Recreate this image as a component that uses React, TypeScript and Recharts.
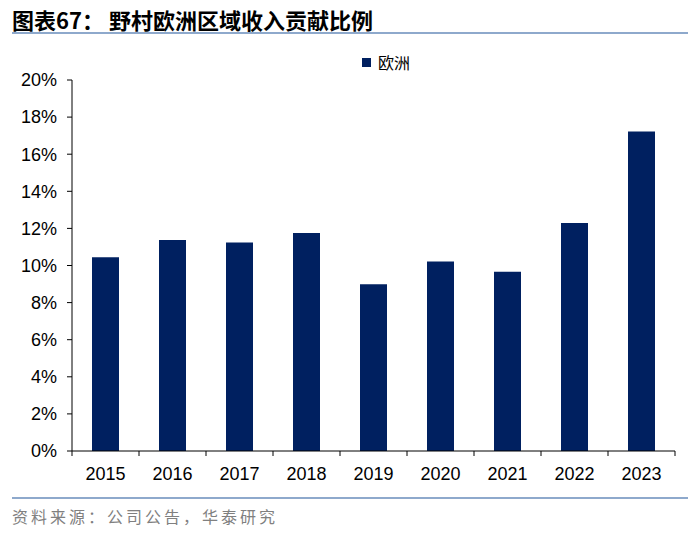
import { BarChart, Bar, XAxis, YAxis, Legend } from "recharts";

const years = ["2015", "2016", "2017", "2018", "2019", "2020", "2021", "2022", "2023"];
const europeShare = [10.45, 11.37, 11.24, 11.75, 8.99, 10.22, 9.66, 12.29, 17.23];
const yTicks = [0, 2, 4, 6, 8, 10, 12, 14, 16, 18, 20];

const chartData = years.map((year, i) => ({ year, europe: europeShare[i] }));

const W = 700;
const H = 535;
const PLOT_LEFT = 72;
const PLOT_RIGHT = 25;
const BAND = (W - PLOT_LEFT - PLOT_RIGHT) / years.length;
const NAVY = "#002060";
const NUM_FONT = "'Liberation Sans', Arial, sans-serif";
const CJK_FONT = "'Noto Sans CJK SC', 'Noto Sans', sans-serif";

// category axis: tick marks sit on the band edges, labels in the middle
function YearTick(props: any) {
  const { x, y, payload, index } = props;
  const axisY = y - 16;
  const left = x - BAND / 2;
  return (
    <g>
      <line x1={left} y1={axisY} x2={left} y2={axisY + 5} stroke="#000" />
      {index === years.length - 1 && (
        <line x1={x + BAND / 2} y1={axisY} x2={x + BAND / 2} y2={axisY + 5} stroke="#000" />
      )}
      <text
        x={x}
        y={y}
        dy="0.71em"
        textAnchor="middle"
        fill="#000"
        fontSize={18}
        fontFamily={NUM_FONT}
      >
        {payload.value}
      </text>
    </g>
  );
}

function LegendBox() {
  return (
    <div style={{ display: "flex", alignItems: "center", fontFamily: CJK_FONT, fontSize: 16, lineHeight: "20px", color: "#000" }}>
      <span style={{ width: 9, height: 9, background: NAVY, display: "inline-block", marginRight: 7 }} />
      欧洲
    </div>
  );
}

export default function App() {
  return (
    <div style={{ position: "absolute", left: 0, top: 0, width: W, height: H, background: "#fff" }}>
      <div
        style={{
          position: "absolute",
          left: 12,
          top: 5,
          fontFamily: CJK_FONT,
          fontWeight: 700,
          fontSize: 22,
          lineHeight: "28px",
          color: "#000",
        }}
      >
        图表67：&nbsp;野村欧洲区域收入贡献比例
      </div>
      <div style={{ position: "absolute", left: 12, top: 32, width: 676, height: 2, background: "#8EA9CC" }} />

      <BarChart
        width={W}
        height={H}
        data={chartData}
        margin={{ top: 60, right: PLOT_RIGHT, bottom: 54, left: 0 }}
      >
        <XAxis
          dataKey="year"
          height={30}
          axisLine={{ stroke: "#000" }}
          tickLine={false}
          tickSize={5}
          tickMargin={11}
          tick={<YearTick />}
          interval={0}
        />
        <YAxis
          width={PLOT_LEFT}
          domain={[0, 20]}
          ticks={yTicks}
          interval={0}
          tickFormatter={(v) => `${v}%`}
          axisLine={{ stroke: "#000" }}
          tickLine={{ stroke: "#000" }}
          tickSize={5}
          tickMargin={10}
          tick={{ fill: "#000", fontSize: 18, fontFamily: NUM_FONT }}
        />
        <Legend
          verticalAlign="top"
          content={<LegendBox />}
          wrapperStyle={{ top: 52, left: 362, width: "auto" }}
        />
        <Bar dataKey="europe" name="欧洲" fill={NAVY} barSize={27} isAnimationActive={false} />
      </BarChart>

      <div style={{ position: "absolute", left: 12, top: 497, width: 676, height: 2, background: "#8EA9CC" }} />
      <div
        style={{
          position: "absolute",
          left: 12,
          top: 505,
          fontFamily: CJK_FONT,
          fontSize: 16,
          lineHeight: "22px",
          letterSpacing: 3,
          color: "#808080",
        }}
      >
        资料来源：公司公告，华泰研究
      </div>
    </div>
  );
}
